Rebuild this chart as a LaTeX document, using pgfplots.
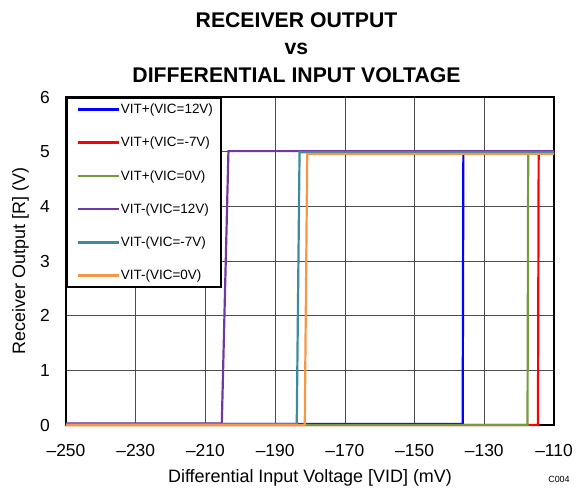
\documentclass[border=0pt]{standalone}
\usepackage{fontspec}
\setmainfont{Liberation Sans}
\usepackage{pgfplots}
\pgfplotsset{compat=1.18}

\definecolor{cblue}{RGB}{0,0,255}
\definecolor{cred}{RGB}{255,0,0}
\definecolor{cgreen}{RGB}{118,155,62}
\definecolor{cpurple}{RGB}{112,56,160}
\definecolor{cteal}{RGB}{60,140,160}
\definecolor{corange}{RGB}{247,150,70}

\begin{document}
\begin{tikzpicture}
\begin{axis}[
  name=ax,
  at={(0,0)}, anchor=south west,
  scale only axis,
  width=488bp, height=328bp,
  xmin=-250, xmax=-110,
  ymin=0, ymax=6,
  xtick={-250,-230,...,-110},
  xticklabels={{–250},{–230},{–210},{–190},{–170},{–150},{–130},{–110}},
  ytick={0,1,...,6},
  /pgf/number format/assume math mode=true,
  tick label style={font=\fontsize{17.5}{20}\selectfont},
  xticklabel style={anchor=base, yshift=-31bp},
  yticklabel style={anchor=east, inner sep=0pt, xshift=-16bp},
  major tick length=0pt,
  grid=major,
  major grid style={black!70, line width=0.7bp},
  axis line style={black, line width=1.8bp},
  xlabel={Differential Input Voltage [VID] (mV)},
  ylabel={Receiver Output [R] (V)},
  label style={font=\fontsize{18}{21}\selectfont},
  xlabel style={at={(axis description cs:0.5,0)}, anchor=base, yshift=-57bp},
  ylabel style={at={(axis description cs:-0.093,0.5)}, anchor=center},
  clip=false,
  every axis plot/.append style={line width=2.2bp},
  legend cell align=left,
  legend image code/.code={\path[draw=none, fill=none] (0bp,0bp) -- (1bp,0bp);
    \draw[#1, line width=2.4bp] (4bp,0bp) -- (45bp,0bp);},
  legend style={at={(0,1)}, anchor=north west, draw=black, line width=1.6bp,
    fill=white, font=\fontsize{13.5}{15}\selectfont,
    inner xsep=7bp, inner ysep=5bp, row sep=20bp,
    nodes={inner sep=1bp},
    /tikz/every even column/.append style={column sep=2bp}},
]
\addplot[cblue] coordinates {(-250,0.02) (-136.2,0.02) (-136.0,4.98) (-110,4.98)};
\addlegendentry{VIT+(VIC=12V)}
\addplot[cred] coordinates {(-250,0.0) (-114.6,0.0) (-114.4,4.97) (-110,4.97)};
\addlegendentry{VIT+(VIC=-7V)}
\addplot[cgreen] coordinates {(-250,0.0) (-117.6,0.0) (-117.4,4.97) (-110,4.97)};
\addlegendentry{VIT+(VIC=0V)}
\addplot[cpurple] coordinates {(-250,0.03) (-205.3,0.03) (-203.4,5.01) (-110,5.01)};
\addlegendentry{VIT-(VIC=12V)}
\addplot[cteal] coordinates {(-250,0.02) (-183.8,0.02) (-183.0,4.99) (-110,4.99)};
\addlegendentry{VIT-(VIC=-7V)}
\addplot[corange] coordinates {(-250,0.0) (-181.5,0.0) (-180.8,4.96) (-110,4.96)};
\addlegendentry{VIT-(VIC=0V)}
\end{axis}
\begin{scope}[font=\fontsize{21.3}{24}\selectfont\bfseries]
\node[anchor=base] at (230.5bp,397bp) {RECEIVER OUTPUT};
\node[anchor=base] at (230.5bp,370bp) {vs};
\node[anchor=base] at (230.5bp,342.5bp) {DIFFERENTIAL INPUT VOLTAGE};
\end{scope}
\node[anchor=base, font=\fontsize{9}{10}\selectfont] at (493bp,-57bp) {C004};
\path[use as bounding box] (-66bp,-66bp) rectangle (517bp,425bp);
\end{tikzpicture}
\end{document}
